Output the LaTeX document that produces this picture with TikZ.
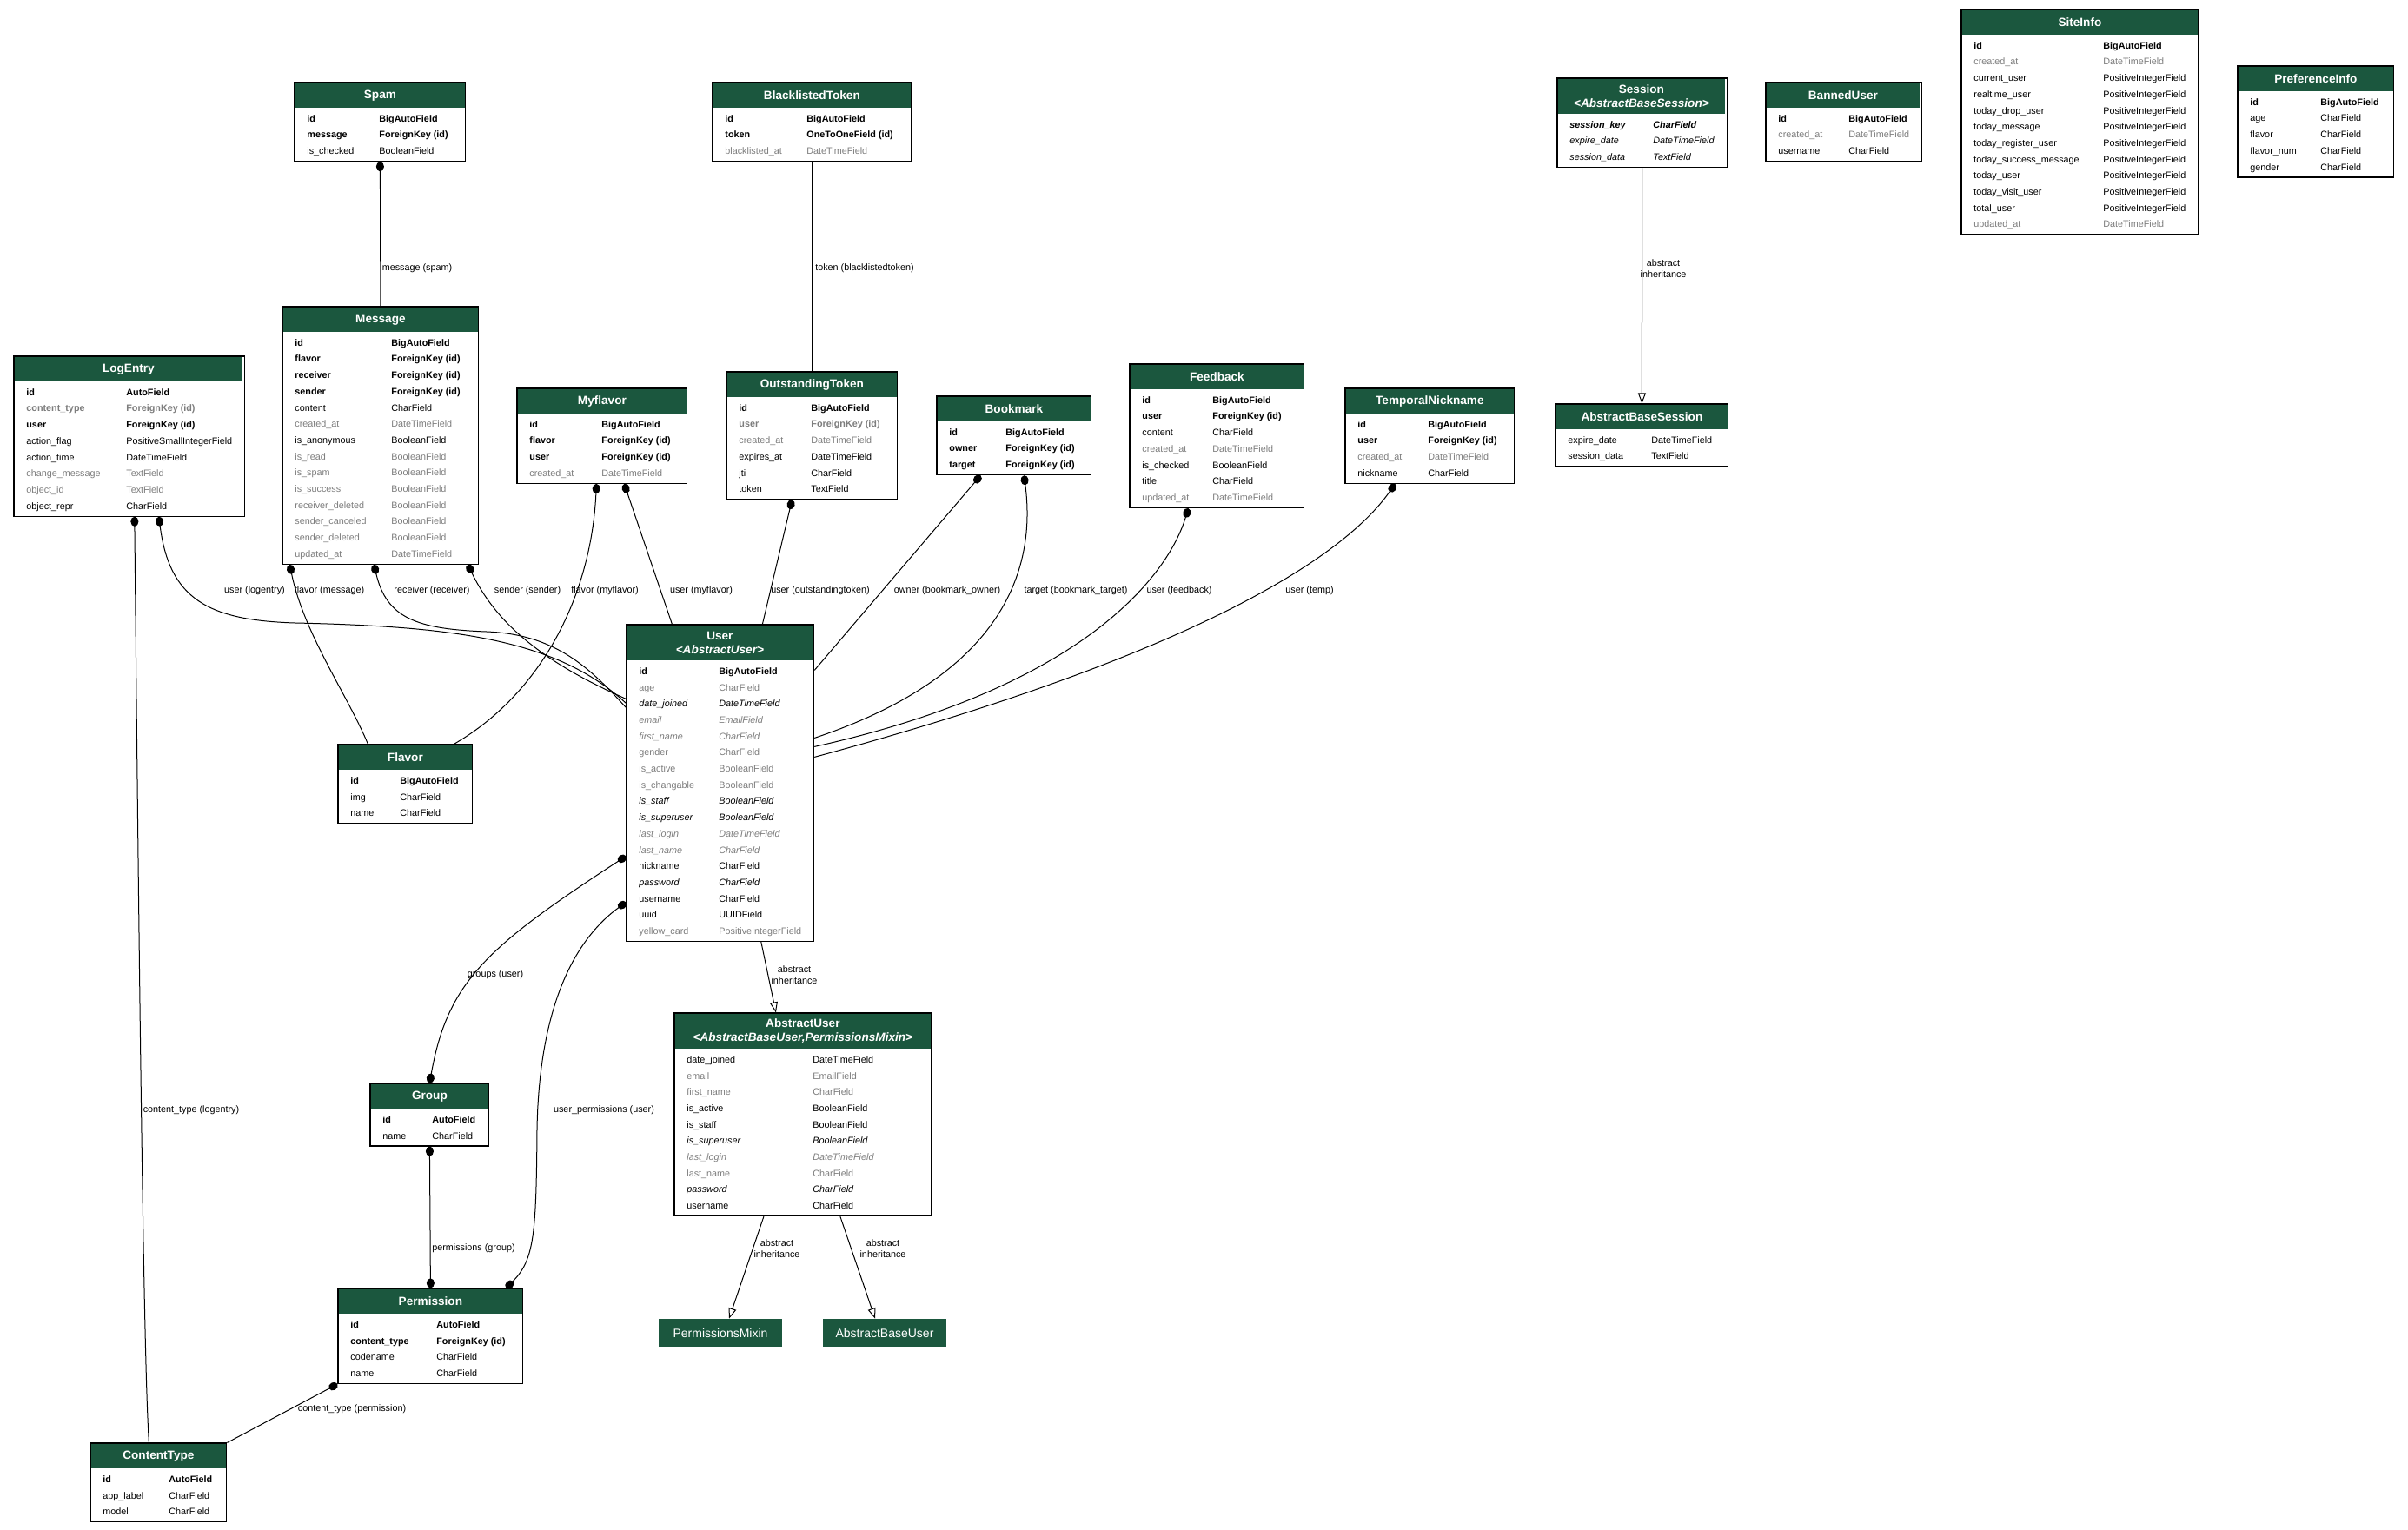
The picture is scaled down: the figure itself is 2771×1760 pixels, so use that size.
\documentclass[tikz,border=0pt]{standalone}
\usepackage{fontspec}
\setmainfont{Liberation Sans}
\usetikzlibrary{arrows.meta,fit,calc}
\definecolor{hdrgreen}{RGB}{27,87,62}
\definecolor{fieldgray}{RGB}{125,125,125}

\newcommand{\rowN}[2]{#1 & #2\\}
\newcommand{\rowB}[2]{\textbf{#1} & \textbf{#2}\\}
\newcommand{\rowG}[2]{\textcolor{fieldgray}{#1} & \textcolor{fieldgray}{#2}\\}
\newcommand{\rowGB}[2]{\textcolor{fieldgray}{\textbf{#1}} & \textcolor{fieldgray}{\textbf{#2}}\\}
\newcommand{\rowI}[2]{\textit{#1} & \textit{#2}\\}
\newcommand{\rowGI}[2]{\textcolor{fieldgray}{\textit{#1}} & \textcolor{fieldgray}{\textit{#2}}\\}
\newcommand{\rowBI}[2]{\textbf{\textit{#1}} & \textbf{\textit{#2}}\\}

% #1 header options, #2 name, #3 x, #4 y, #5 width, #6 title, #7 type column, #8 rows
\newcommand{\djmodel}[8][]{%
    \node[modelhead, minimum width=#5*0.5pt, #1] (#2h) at (#3,#4) {#6};
    \node[modelbody] (#2b) at (#2h.south west) {%
        \begin{tabular}{@{}p{\dimexpr #7pt/2-7pt\relax}@{}l@{}}#8\end{tabular}};
    \node[modelbox, fit=(#2h)(#2b)] (#2) {};
}

\begin{document}
\begin{tikzpicture}[x=0.5pt, y=-0.5pt,
        modelhead/.style={anchor=north west, fill=hdrgreen, text=white, inner sep=0,
            minimum height=14.5pt, align=center, font=\fontsize{6.8}{7.8}\selectfont\bfseries},
        modelbody/.style={anchor=north west, inner xsep=7pt, inner ysep=1pt,
            font=\fontsize{5.4}{9.35}\selectfont},
        modelbox/.style={draw, inner sep=0, line width=0.6pt},
        twoline/.style={minimum height=20.5pt},
        plainbox/.style={fill=hdrgreen, text=white, inner sep=0, minimum width=71pt,
            minimum height=16pt, font=\fontsize{7}{8}\selectfont},
        lbl/.style={inner sep=0, align=center, font=\fontsize{5.4}{6.2}\selectfont},
        fkedge/.style={line width=0.5pt, arrows={Circle[length=5.5pt,width=4.5pt]-}},
        mmedge/.style={line width=0.5pt, arrows={Circle[length=5.5pt,width=4.5pt]-Circle[length=5.5pt,width=4.5pt]}},
        otoedge/.style={line width=0.5pt},
        inhedge/.style={line width=0.5pt, arrows={-Triangle[open,length=6pt,width=4.5pt]}}]

    \path[use as bounding box, fill=white] (0,0) rectangle (2771,1760);

    \djmodel{spam}{339}{95}{196}{Spam}{97}{%
        \rowB{id}{BigAutoField}
        \rowB{message}{ForeignKey (id)}
        \rowN{is\_checked}{BooleanField}}
    \djmodel{blacklisted}{820}{95}{228}{BlacklistedToken}{108}{%
        \rowB{id}{BigAutoField}
        \rowB{token}{OneToOneField (id)}
        \rowG{blacklisted\_at}{DateTimeField}}
    \djmodel[twoline]{session}{1792}{90}{193}{Session\\\textit{<AbstractBaseSession>}}{110}{%
        \rowBI{session\_key}{CharField}
        \rowI{expire\_date}{DateTimeField}
        \rowI{session\_data}{TextField}}
    \djmodel{banned}{2032}{95}{177}{BannedUser}{95}{%
        \rowB{id}{BigAutoField}
        \rowG{created\_at}{DateTimeField}
        \rowN{username}{CharField}}
    \djmodel{siteinfo}{2257}{11}{272}{SiteInfo}{163}{%
        \rowB{id}{BigAutoField}
        \rowG{created\_at}{DateTimeField}
        \rowN{current\_user}{PositiveIntegerField}
        \rowN{realtime\_user}{PositiveIntegerField}
        \rowN{today\_drop\_user}{PositiveIntegerField}
        \rowN{today\_message}{PositiveIntegerField}
        \rowN{today\_register\_user}{PositiveIntegerField}
        \rowN{today\_success\_message}{PositiveIntegerField}
        \rowN{today\_user}{PositiveIntegerField}
        \rowN{today\_visit\_user}{PositiveIntegerField}
        \rowN{total\_user}{PositiveIntegerField}
        \rowG{updated\_at}{DateTimeField}}
    \djmodel{prefinfo}{2575}{76}{179}{PreferenceInfo}{95}{%
        \rowB{id}{BigAutoField}
        \rowN{age}{CharField}
        \rowN{flavor}{CharField}
        \rowN{flavor\_num}{CharField}
        \rowN{gender}{CharField}}
    \djmodel{message}{325}{353}{225}{Message}{125}{%
        \rowB{id}{BigAutoField}
        \rowB{flavor}{ForeignKey (id)}
        \rowB{receiver}{ForeignKey (id)}
        \rowB{sender}{ForeignKey (id)}
        \rowN{content}{CharField}
        \rowG{created\_at}{DateTimeField}
        \rowN{is\_anonymous}{BooleanField}
        \rowG{is\_read}{BooleanField}
        \rowG{is\_spam}{BooleanField}
        \rowG{is\_success}{BooleanField}
        \rowG{receiver\_deleted}{BooleanField}
        \rowG{sender\_canceled}{BooleanField}
        \rowG{sender\_deleted}{BooleanField}
        \rowG{updated\_at}{DateTimeField}}
    \djmodel{logentry}{16}{410}{263}{LogEntry}{129}{%
        \rowB{id}{AutoField}
        \rowGB{content\_type}{ForeignKey (id)}
        \rowB{user}{ForeignKey (id)}
        \rowN{action\_flag}{PositiveSmallIntegerField}
        \rowN{action\_time}{DateTimeField}
        \rowG{change\_message}{TextField}
        \rowG{object\_id}{TextField}
        \rowN{object\_repr}{CharField}}
    \djmodel{myflavor}{595}{447}{195}{Myflavor}{97}{%
        \rowB{id}{BigAutoField}
        \rowB{flavor}{ForeignKey (id)}
        \rowB{user}{ForeignKey (id)}
        \rowG{created\_at}{DateTimeField}}
    \djmodel{outstanding}{836}{428}{196}{OutstandingToken}{97}{%
        \rowB{id}{BigAutoField}
        \rowGB{user}{ForeignKey (id)}
        \rowG{created\_at}{DateTimeField}
        \rowN{expires\_at}{DateTimeField}
        \rowN{jti}{CharField}
        \rowN{token}{TextField}}
    \djmodel{bookmark}{1078}{456}{177}{Bookmark}{79}{%
        \rowB{id}{BigAutoField}
        \rowB{owner}{ForeignKey (id)}
        \rowB{target}{ForeignKey (id)}}
    \djmodel{feedback}{1300}{419}{200}{Feedback}{95}{%
        \rowB{id}{BigAutoField}
        \rowB{user}{ForeignKey (id)}
        \rowN{content}{CharField}
        \rowG{created\_at}{DateTimeField}
        \rowN{is\_checked}{BooleanField}
        \rowN{title}{CharField}
        \rowG{updated\_at}{DateTimeField}}
    \djmodel{temporal}{1548}{447}{194}{TemporalNickname}{95}{%
        \rowB{id}{BigAutoField}
        \rowB{user}{ForeignKey (id)}
        \rowG{created\_at}{DateTimeField}
        \rowN{nickname}{CharField}}
    \djmodel{abssession}{1790}{465}{198}{AbstractBaseSession}{110}{%
        \rowN{expire\_date}{DateTimeField}
        \rowN{session\_data}{TextField}}
    \djmodel[twoline]{user}{721}{719}{214}{User\\\textit{<AbstractUser>}}{106}{%
        \rowB{id}{BigAutoField}
        \rowG{age}{CharField}
        \rowI{date\_joined}{DateTimeField}
        \rowGI{email}{EmailField}
        \rowGI{first\_name}{CharField}
        \rowG{gender}{CharField}
        \rowG{is\_active}{BooleanField}
        \rowG{is\_changable}{BooleanField}
        \rowI{is\_staff}{BooleanField}
        \rowI{is\_superuser}{BooleanField}
        \rowGI{last\_login}{DateTimeField}
        \rowGI{last\_name}{CharField}
        \rowN{nickname}{CharField}
        \rowI{password}{CharField}
        \rowN{username}{CharField}
        \rowN{uuid}{UUIDField}
        \rowG{yellow\_card}{PositiveIntegerField}}
    \djmodel[twoline]{abstractuser}{776}{1166}{295}{AbstractUser\\\textit{<AbstractBaseUser,PermissionsMixin>}}{159}{%
        \rowN{date\_joined}{DateTimeField}
        \rowG{email}{EmailField}
        \rowG{first\_name}{CharField}
        \rowN{is\_active}{BooleanField}
        \rowN{is\_staff}{BooleanField}
        \rowI{is\_superuser}{BooleanField}
        \rowGI{last\_login}{DateTimeField}
        \rowG{last\_name}{CharField}
        \rowI{password}{CharField}
        \rowN{username}{CharField}}
    \djmodel{flavor}{389}{857}{154}{Flavor}{71}{%
        \rowB{id}{BigAutoField}
        \rowN{img}{CharField}
        \rowN{name}{CharField}}
    \djmodel{group}{426}{1247}{136}{Group}{71}{%
        \rowB{id}{AutoField}
        \rowN{name}{CharField}}
    \djmodel{permission}{389}{1483}{212}{Permission}{113}{%
        \rowB{id}{AutoField}
        \rowB{content\_type}{ForeignKey (id)}
        \rowN{codename}{CharField}
        \rowN{name}{CharField}}
    \djmodel{contenttype}{104}{1661}{156}{ContentType}{90}{%
        \rowB{id}{AutoField}
        \rowN{app\_label}{CharField}
        \rowN{model}{CharField}}

    \node[plainbox] (pmixin) at (829,1534) {PermissionsMixin};
    \node[plainbox] (abuser) at (1018,1534) {AbstractBaseUser};

    \draw[fkedge] (spam.south) -- (message.north);
    \draw[otoedge] (blacklisted.south) -- (outstanding.north);
    \draw[inhedge] (session.south) -- (abssession.north);
    \draw[inhedge] ($(user.south)+(47,0)$) -- ($(abstractuser.north)+(-31,0)$);
    \draw[inhedge] ($(abstractuser.south)+(-45,0)$) -- ($(pmixin.north)+(10,0)$);
    \draw[inhedge] ($(abstractuser.south)+(43,0)$) -- ($(abuser.north)+(-11,0)$);

    \draw[fkedge] ($(logentry.south)+(34,0)$) .. controls (195,690) and (240,714) .. (340,717)
        .. controls (520,721) and (640,735) .. ($(user.north west)+(0,91)$);
    \draw[fkedge] ($(logentry.south)+(6,0)$) .. controls (160,1100) and (165,1560) .. ($(contenttype.north)+(-11,0)$);
    \draw[fkedge] ($(message.south west)+(9,0)$) .. controls (350,730) and (400,800) .. ($(flavor.north west)+(35,0)$);
    \draw[fkedge] ($(message.south west)+(106,0)$) .. controls (445,712) and (480,724) .. (560,727)
        .. controls (640,730) and (680,770) .. ($(user.north west)+(0,96)$);
    \draw[fkedge] ($(message.south west)+(214,0)$) .. controls (570,715) and (620,760) .. ($(user.north west)+(0,86)$);
    \draw[fkedge] ($(myflavor.south west)+(92,0)$) .. controls (680,690) and (620,800) .. ($(flavor.north west)+(134,0)$);
    \draw[fkedge] ($(myflavor.south west)+(124,0)$) -- ($(user.north west)+(53,0)$);
    \draw[fkedge] ($(outstanding.south west)+(76,0)$) -- ($(user.north west)+(157,0)$);
    \draw[fkedge] ($(bookmark.south west)+(51,0)$) -- ($(user.north east)+(0,53)$);
    \draw[fkedge] ($(bookmark.south west)+(101,0)$) .. controls (1192,650) and (1160,775) .. ($(user.north east)+(0,131)$);
    \draw[fkedge] ($(feedback.south west)+(68,0)$) .. controls (1345,660) and (1250,790) .. ($(user.north east)+(0,141)$);
    \draw[fkedge] ($(temporal.south west)+(58,0)$) .. controls (1540,650) and (1350,760) .. ($(user.north east)+(0,153)$);
    \draw[mmedge] ($(user.north west)+(0,267)$) .. controls (560,1090) and (515,1130) .. (group.north);
    \draw[mmedge] ($(user.north west)+(0,320)$) .. controls (650,1090) and (620,1180) .. (618,1300)
        .. controls (617,1420) and (615,1450) .. ($(permission.north west)+(194,0)$);
    \draw[mmedge] (group.south) -- (permission.north);
    \draw[fkedge] (permission.south west) -- (contenttype.north east);

    \node[lbl] (lspam) at (480,309) {message (spam)};
    \node[lbl] (ltoken) at (995,309) {token (blacklistedtoken)};
    \node[lbl] (linhsession) at (1914,309) {abstract\\inheritance};
    \node[lbl] (llogentry) at (293,680) {user (logentry)};
    \node[lbl] (lflavormsg) at (379,680) {flavor (message)};
    \node[lbl] (lreceiver) at (497,680) {receiver (receiver)};
    \node[lbl] (lsender) at (607,680) {sender (sender)};
    \node[lbl] (lflavormy) at (696,680) {flavor (myflavor)};
    \node[lbl] (lusermy) at (807,680) {user (myflavor)};
    \node[lbl] (lusertoken) at (944,680) {user (outstandingtoken)};
    \node[lbl] (lowner) at (1090,680) {owner (bookmark\_owner)};
    \node[lbl] (ltarget) at (1238,680) {target (bookmark\_target)};
    \node[lbl] (lfeedback) at (1357,680) {user (feedback)};
    \node[lbl] (ltemp) at (1507,680) {user (temp)};
    \node[lbl] (linhuser) at (914,1122) {abstract\\inheritance};
    \node[lbl] (lgroups) at (570,1122) {groups (user)};
    \node[lbl] (lctlog) at (220,1278) {content\_type (logentry)};
    \node[lbl] (lperms) at (695,1278) {user\_permissions (user)};
    \node[lbl] (lpermgroup) at (545,1437) {permissions (group)};
    \node[lbl] (linhpmixin) at (894,1437) {abstract\\inheritance};
    \node[lbl] (linhabuser) at (1016,1437) {abstract\\inheritance};
    \node[lbl] (lctperm) at (405,1622) {content\_type (permission)};
\end{tikzpicture}
\end{document}
